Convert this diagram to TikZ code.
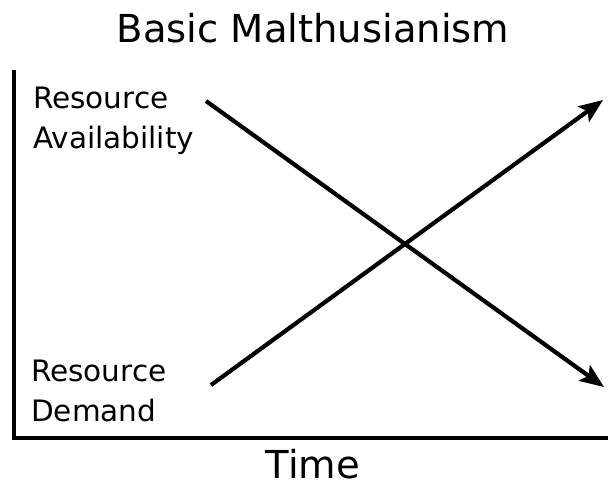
\documentclass[tikz,border=0pt]{standalone}
\usepackage{fontspec}
\setmainfont{DejaVu Sans}
\usetikzlibrary{arrows.meta, positioning}
\tikzset{
  %% -- axes of the sketch --
  MT/axis/.style={draw, line width=3.4pt, line cap=rect},
  %% -- trend line with arrow --
  MT/trend/.style={-{Stealth[length=24pt, width=19pt, inset=5pt]}, line width=4.2pt},
  %% -- curve labels --
  MT/lbl/.style={font=\fontsize{29.5}{40}\selectfont, align=left, anchor=west, inner sep=0pt},
  %% -- title and axis caption --
  MT/head/.style={font=\fontsize{38.5}{44}\selectfont, inner sep=0pt},
}
\begin{document}
\begin{tikzpicture}[x=1pt, y=-1pt]
\useasboundingbox (0,0) rectangle (608,483);

%% ── Title ──────────────────────────────────────────────────────────────────
\node[MT/head] (title) at (313,28) {Basic Malthusianism};

%% ── Axes ───────────────────────────────────────────────────────────────────
\coordinate (ytop) at (14,72);
\coordinate (orig) at (14,438);
\coordinate (xend) at (608,438);
\draw[MT/axis] (ytop) -- (orig) -- (xend);
\node[MT/head] (time) at (313,464) {Time};

%% ── Labels ─────────────────────────────────────────────────────────────────
\node[MT/lbl] (avail) at (33,121) {Resource\\Availability};
\node[MT/lbl] (demand) at (31,391) {Resource\\Demand};

%% ── Trends ─────────────────────────────────────────────────────────────────
\coordinate (a0) at (206,101);
\coordinate (a1) at (604,387);
\coordinate (d0) at (211,385);
\coordinate (d1) at (603,100);
\draw[MT/trend] (a0) -- (a1);
\draw[MT/trend] (d0) -- (d1);

\end{tikzpicture}
\end{document}
